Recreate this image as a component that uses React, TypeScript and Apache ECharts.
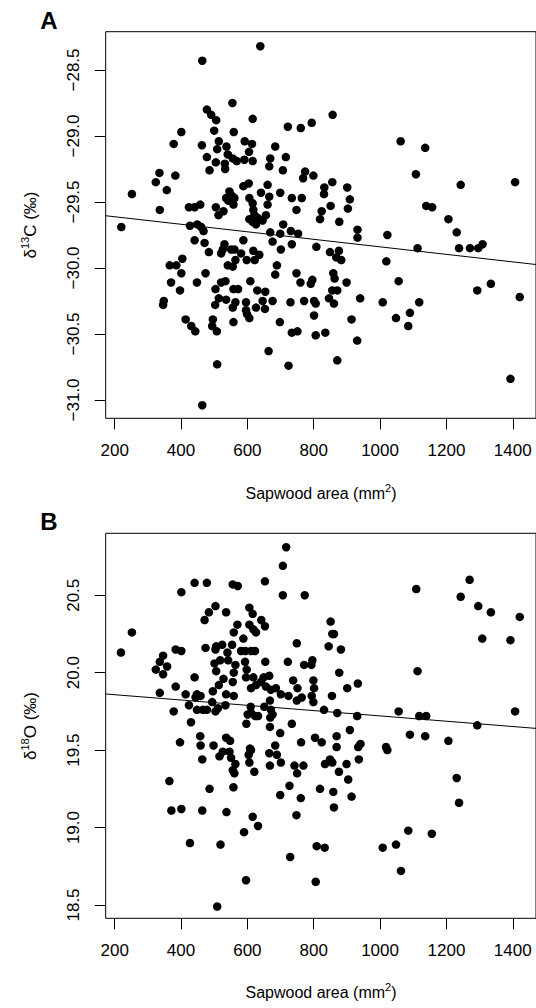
import React, { useEffect, useRef } from "react";
import * as echarts from "echarts";

// ---------- data ----------
const xTicks = [200, 400, 600, 800, 1000, 1200, 1400];
const c13Ticks = [-31.0, -30.5, -30.0, -29.5, -29.0, -28.5];
const o18Ticks = [18.5, 19.0, 19.5, 20.0, 20.5];

const xRange = [173, 1470];
const c13Range = [-31.139, -28.21];
const o18Range = [18.414, 20.9];

// fitted regression lines: [intercept, slope]
const fitC13 = [-29.555, -0.000285];
const fitO18 = [19.892, -0.0001712];

// Panel A: sapwood area (mm2) vs d13C (permil)
const sapwoodVsC13: [number, number][] = [
  [639, -28.32], [464, -28.43], [555, -28.75], [478, -28.8], [491, -28.84], [506, -28.88], [616, -28.87],
  [722, -28.93], [401, -28.97], [500, -28.96], [559, -28.97], [378, -29.06], [514, -29.04], [463, -29.07],
  [537, -29.08], [509, -29.1], [592, -29.04], [614, -29.06], [605, -29.12], [684, -29.08], [478, -29.16],
  [541, -29.14], [556, -29.17], [568, -29.19], [505, -29.2], [532, -29.21], [591, -29.18], [616, -29.19],
  [669, -29.17], [716, -29.16], [486, -29.26], [533, -29.25], [666, -29.23], [707, -29.26], [335, -29.28],
  [383, -29.3], [324, -29.35], [357, -29.41], [252, -29.44], [588, -29.38], [604, -29.36], [661, -29.37],
  [641, -29.43], [699, -29.43], [546, -29.42], [552, -29.45], [536, -29.47], [561, -29.47], [542, -29.49],
  [558, -29.52], [606, -29.47], [616, -29.51], [666, -29.46], [661, -29.52], [734, -29.47], [748, -29.56],
  [336, -29.56], [424, -29.54], [441, -29.54], [458, -29.52], [505, -29.54], [528, -29.57], [513, -29.6],
  [618, -29.56], [621, -29.6], [656, -29.6], [606, -29.63], [631, -29.62],
  [761, -28.94], [794, -28.9], [857, -28.84], [1062, -29.04], [1136, -29.09], [774, -29.27], [768, -29.32],
  [799, -29.3], [1108, -29.29], [1243, -29.37], [1407, -29.35], [856, -29.35], [832, -29.39], [831, -29.44],
  [901, -29.39], [764, -29.47], [909, -29.48], [851, -29.53], [903, -29.55], [824, -29.57], [1139, -29.53],
  [1157, -29.54], [819, -29.63], [1206, -29.63],
  [220, -29.69], [427, -29.68], [449, -29.67], [461, -29.69], [468, -29.72], [441, -29.79], [471, -29.81],
  [484, -29.88], [616, -29.65], [626, -29.67], [646, -29.64], [708, -29.67], [669, -29.73], [699, -29.74],
  [731, -29.72], [753, -29.74], [676, -29.8], [734, -29.82], [701, -29.86], [588, -29.79], [531, -29.82],
  [526, -29.86], [521, -29.89], [551, -29.86], [561, -29.86], [581, -29.89], [618, -29.87], [636, -29.9],
  [598, -29.94], [622, -29.94], [564, -29.94], [541, -29.98], [556, -29.99], [404, -29.93], [366, -29.98],
  [386, -29.98], [401, -30.04], [370, -30.11], [397, -30.17], [448, -30.11], [474, -30.04], [689, -29.98],
  [684, -30.05], [748, -30.04], [504, -30.16], [521, -30.11], [534, -30.1], [609, -30.1], [558, -30.16],
  [572, -30.16], [630, -30.17], [654, -30.18], [348, -30.25], [346, -30.28], [514, -30.23], [536, -30.24],
  [503, -30.28], [564, -30.26], [556, -30.3], [596, -30.26], [626, -30.3], [596, -30.32], [599, -30.35],
  [606, -30.38], [646, -30.25], [653, -30.31], [676, -30.25], [730, -30.26], [414, -30.39], [431, -30.44],
  [443, -30.48], [496, -30.39], [494, -30.44], [508, -30.48], [558, -30.41], [698, -30.41], [734, -30.49],
  [751, -30.48], [664, -30.63], [509, -30.73], [724, -30.74], [464, -31.04],
  [877, -29.65], [932, -29.71], [932, -29.77], [1022, -29.75], [1231, -29.73], [808, -29.84], [849, -29.88],
  [876, -29.87], [868, -29.92], [883, -29.94], [1019, -29.95], [1113, -29.85], [1238, -29.85], [1271, -29.85],
  [1296, -29.85], [1309, -29.82], [760, -30.11], [859, -30.04], [863, -30.08], [796, -30.09], [791, -30.12],
  [899, -30.11], [1056, -30.1], [856, -30.17], [871, -30.17], [1293, -30.17], [1334, -30.12], [771, -30.25],
  [801, -30.25], [806, -30.27], [846, -30.23], [861, -30.27], [940, -30.23], [1008, -30.26], [1118, -30.26],
  [1421, -30.22], [801, -30.36], [914, -30.39], [1048, -30.38], [1090, -30.34], [1085, -30.44], [806, -30.51],
  [835, -30.49], [931, -30.55], [871, -30.7], [1393, -30.84],
];

// Panel B: sapwood area (mm2) vs d18O (permil)
const sapwoodVsO18: [number, number][] = [
  [717, 20.81], [707, 20.69], [707, 20.5], [401, 20.52], [441, 20.58], [478, 20.58], [556, 20.57], [571, 20.56],
  [653, 20.59], [252, 20.26], [219, 20.13], [504, 20.43], [484, 20.39], [471, 20.34], [536, 20.39], [606, 20.42],
  [616, 20.38], [642, 20.34], [653, 20.3], [570, 20.31], [559, 20.26], [606, 20.31], [618, 20.28], [626, 20.26],
  [588, 20.22], [749, 20.19], [474, 20.16], [506, 20.17], [524, 20.18], [504, 20.15], [540, 20.13], [554, 20.18],
  [581, 20.14], [594, 20.14], [611, 20.14], [623, 20.14], [654, 20.07], [722, 20.07], [384, 20.15], [401, 20.14],
  [346, 20.11], [336, 20.07], [358, 20.04], [324, 20.02], [346, 19.99], [501, 20.06], [518, 20.08], [542, 20.08],
  [506, 20.01], [564, 20.05], [559, 20.0], [593, 20.07], [598, 20.02], [618, 19.97], [596, 19.97], [649, 19.97],
  [666, 19.98], [641, 19.94], [626, 19.92], [656, 19.91], [738, 19.95], [751, 19.9], [441, 19.97], [384, 19.91],
  [336, 19.87], [528, 19.96], [514, 19.92], [556, 19.94], [496, 19.88], [536, 19.86], [559, 19.85], [611, 19.9],
  [671, 19.89], [686, 19.9], [701, 19.86], [724, 19.85], [749, 19.82], [414, 19.86], [424, 19.79], [448, 19.86],
  [459, 19.85], [444, 19.84], [378, 19.75], [448, 19.76], [466, 19.76], [478, 19.76], [494, 19.81], [504, 19.75],
  [511, 19.77], [534, 19.79], [610, 19.78], [611, 19.74], [651, 19.78], [668, 19.82], [671, 19.76], [624, 19.72],
  [601, 19.73], [676, 19.73], [632, 19.72], [669, 19.71],
  [773, 20.5], [1109, 20.54], [1270, 20.6], [1243, 20.49], [1296, 20.43], [1334, 20.39], [1421, 20.36],
  [851, 20.33], [856, 20.25], [861, 20.25], [845, 20.17], [882, 20.15], [1308, 20.22], [1393, 20.21],
  [796, 20.08], [771, 20.05], [793, 20.05], [877, 20.0], [1113, 20.01], [799, 19.95], [801, 19.9], [901, 19.9],
  [933, 19.93], [764, 19.84], [794, 19.85], [799, 19.81], [855, 19.85], [831, 19.76], [871, 19.74], [931, 19.72],
  [1056, 19.75], [1118, 19.72], [1139, 19.72], [1407, 19.75],
  [430, 19.68], [597, 19.67], [668, 19.65], [699, 19.61], [734, 19.67], [397, 19.55], [458, 19.59], [459, 19.53],
  [498, 19.53], [536, 19.58], [548, 19.56], [464, 19.44], [516, 19.46], [526, 19.49], [546, 19.49], [551, 19.45],
  [564, 19.41], [556, 19.37], [561, 19.35], [558, 19.26], [606, 19.42], [608, 19.51], [611, 19.5], [604, 19.47],
  [621, 19.36], [666, 19.48], [668, 19.4], [684, 19.53], [689, 19.47], [701, 19.42], [742, 19.4], [750, 19.35],
  [727, 19.27], [699, 19.21], [748, 19.08], [365, 19.3], [486, 19.25], [371, 19.11], [401, 19.12], [464, 19.11],
  [537, 19.1], [616, 19.07], [632, 19.01], [590, 18.97], [427, 18.9], [519, 18.89], [729, 18.81], [596, 18.66],
  [509, 18.49],
  [762, 19.55], [769, 19.4], [761, 19.19], [804, 19.58], [824, 19.55], [869, 19.59], [869, 19.52], [909, 19.63],
  [934, 19.52], [941, 19.54], [834, 19.41], [849, 19.44], [856, 19.42], [899, 19.41], [876, 19.36], [904, 19.31],
  [936, 19.44], [819, 19.25], [859, 19.23], [861, 19.13], [914, 19.2], [1018, 19.52], [1022, 19.5], [1090, 19.6],
  [1136, 19.59], [1206, 19.56], [1293, 19.66], [1231, 19.32], [1238, 19.16], [1085, 18.98], [1156, 18.96],
  [809, 18.88], [833, 18.87], [1008, 18.87], [1048, 18.89], [1063, 18.72], [806, 18.65],
];

// ---------- chart ----------
const FONT = "'Liberation Sans', Arial, Helvetica, sans-serif";
const fmt1 = (v: number) => v.toFixed(1).replace("-", "\u2212");

function fitLine(fit: number[]) {
  return xRange.map((x) => [x, fit[0] + fit[1] * x]);
}

export default function App() {
  const ref = useRef<HTMLDivElement>(null);

  useEffect(() => {
    if (!ref.current) return;
    const chart = echarts.init(ref.current, undefined, { renderer: "svg" });

    const grids = [
      { left: 105.7, top: 31.7, width: 432.3, height: 386.6 },
      { left: 105.7, top: 533.3, width: 432.3, height: 385 },
    ];

    const xAxisFor = (i: number) => ({
      type: "value",
      gridIndex: i,
      min: xRange[0],
      max: xRange[1],
      splitLine: { show: false },
      axisLine: { show: false },
      axisTick: { show: true, length: 11, customValues: xTicks, lineStyle: { color: "#000", width: 1 } },
      axisLabel: {
        customValues: xTicks,
        fontSize: 17,
        color: "#000",
        margin: 24,
        fontFamily: FONT,
        formatter: (v: number) => String(v),
      },
    });

    const yAxisFor = (i: number, range: number[], ticks: number[]) => ({
      type: "value",
      gridIndex: i,
      min: range[0],
      max: range[1],
      splitLine: { show: false },
      axisLine: { show: false },
      axisTick: { show: true, length: 11, customValues: ticks, lineStyle: { color: "#000", width: 1 } },
      axisLabel: {
        customValues: ticks,
        rotate: 90,
        fontSize: 17,
        color: "#000",
        margin: 24,
        fontFamily: FONT,
        formatter: (v: number) => fmt1(v),
      },
    });

    const yTitle = (y: number, iso: string, el: string) => ({
      type: "text",
      x: 30,
      y,
      rotation: Math.PI / 2,
      style: {
        text: `{n|\u03b4}{s|${iso}}{n|${el} (\u2030)}`,
        align: "center",
        verticalAlign: "middle",
        textAlign: "center",
        textVerticalAlign: "middle",
        fill: "#000",
        rich: {
          n: { fontSize: 17, fontFamily: FONT, lineHeight: 22, fill: "#000" },
          s: { fontSize: 11, fontFamily: FONT, lineHeight: 12, verticalAlign: "top", fill: "#000" },
        },
      },
    });

    const xTitle = (y: number) => ({
      type: "text",
      x: 321,
      y,
      style: {
        text: "{n|Sapwood area (mm}{s|2}{n|)}",
        align: "center",
        verticalAlign: "middle",
        textAlign: "center",
        textVerticalAlign: "middle",
        fill: "#000",
        rich: {
          n: { fontSize: 16, fontFamily: FONT, lineHeight: 22, fill: "#000" },
          s: { fontSize: 11, fontFamily: FONT, lineHeight: 12, verticalAlign: "top", fill: "#000" },
        },
      },
    });

    const panelLetter = (y: number, t: string) => ({
      type: "text",
      x: 49,
      y,
      style: {
        text: t,
        align: "center",
        verticalAlign: "middle",
        textAlign: "center",
        textVerticalAlign: "middle",
        font: `bold 24px ${FONT}`,
        fill: "#000",
      },
    });

    const dotStyle = { color: "#000", opacity: 1 };

    chart.setOption({
      animation: false,
      backgroundColor: "#fff",
      grid: grids.map((g) => ({ ...g, show: true, borderColor: "#000", borderWidth: 1, backgroundColor: "transparent" })),
      xAxis: [xAxisFor(0), xAxisFor(1)],
      yAxis: [yAxisFor(0, c13Range, c13Ticks), yAxisFor(1, o18Range, o18Ticks)],
      series: [
        {
          type: "scatter",
          xAxisIndex: 0,
          yAxisIndex: 0,
          data: sapwoodVsC13,
          symbol: "circle",
          symbolSize: 8.5,
          itemStyle: dotStyle,
        },
        {
          type: "line",
          xAxisIndex: 0,
          yAxisIndex: 0,
          data: fitLine(fitC13),
          symbol: "none",
          lineStyle: { color: "#000", width: 1 },
        },
        {
          type: "scatter",
          xAxisIndex: 1,
          yAxisIndex: 1,
          data: sapwoodVsO18,
          symbol: "circle",
          symbolSize: 8.5,
          itemStyle: dotStyle,
        },
        {
          type: "line",
          xAxisIndex: 1,
          yAxisIndex: 1,
          data: fitLine(fitO18),
          symbol: "none",
          lineStyle: { color: "#000", width: 1 },
        },
      ],
      graphic: [
        panelLetter(20, "A"),
        panelLetter(521, "B"),
        yTitle(225, "13", "C"),
        yTitle(726, "18", "O"),
        xTitle(493),
        xTitle(992),
      ],
    });

    return () => chart.dispose();
  }, []);

  return (
    <div
      ref={ref}
      style={{ position: "fixed", left: 0, top: 0, width: 536, height: 1008, background: "#fff" }}
    />
  );
}
